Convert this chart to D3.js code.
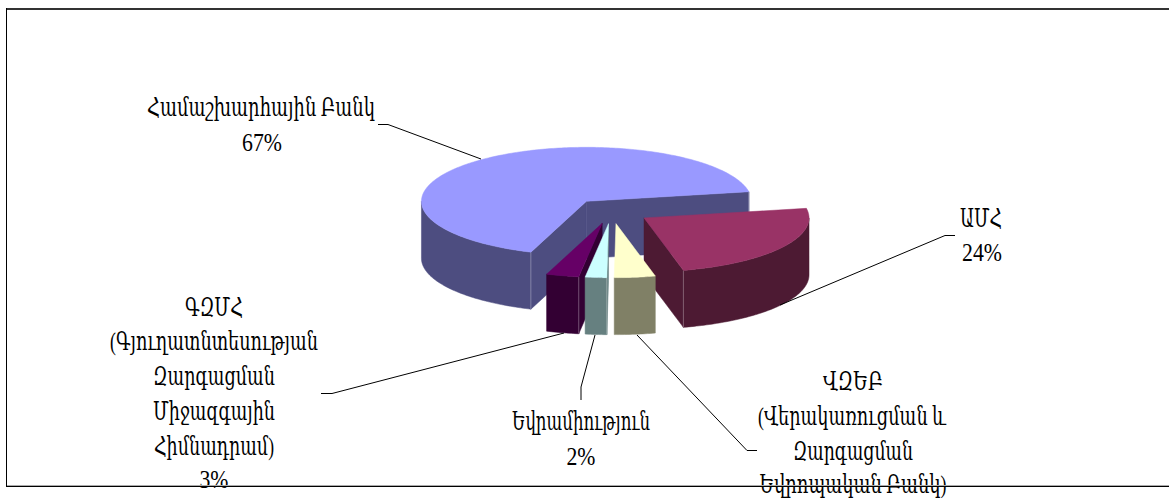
<!DOCTYPE html>
<html><head><meta charset="utf-8">
<style>html,body{margin:0;padding:0;background:#fff;overflow:hidden}svg{display:block}</style>
<script src="https://cdn.jsdelivr.net/npm/d3@7/dist/d3.min.js"></script>
</head><body><svg id="c" width="1169" height="498"></svg>
<script>
const categories = ["ԱՄՀ","ՎԶԵԲ","Եվրամիություն","ԳԶՄՀ","Համաշխարհային Բանկ"];
const shares = [24,4,2.1,3.2,66.7];
const topColors = ["#993366","#FFFFCC","#CCFFFF","#660066","#9999FF"];
const sideColors = ["#4D1A33","#808066","#668080","#330033","#4D4D80"];
const drawOrder = [4,0,3,2,1];

const W=1169,H=498;
const cx=611.5,cy=211,rx=165,ry=54,depth=57,explode=0.235,rotationDeg=-10.2;
const svg=d3.select("#c");
svg.append("rect").attr("width",W).attr("height",H).attr("fill","#fff");

// d3 pie angles: 0 = up, clockwise
const start=(rotationDeg+90)*Math.PI/180;
const arcs=d3.pie().sort(null).startAngle(start).endAngle(start+2*Math.PI)(shares);
const P=(o,a,z=0)=>[o[0]+rx*Math.sin(a),o[1]-ry*Math.cos(a)+z];
const line=d3.line();
const sample=(a,b)=>{const n=Math.max(2,Math.ceil((b-a)*60));return d3.range(n+1).map(i=>a+(b-a)*i/n);};
const gPie=svg.append("g");
drawOrder.forEach(i=>{
  const d=arcs[i],mid=(d.startAngle+d.endAngle)/2;
  const o=[cx+rx*explode*Math.sin(mid),cy-ry*explode*Math.cos(mid)];
  const g=gPie.append("g");
  const side=sideColors[i],top=topColors[i],edge=d3.interpolateRgb(side,"#fff")(0.3);
  const wall=(pts)=>g.append("path").attr("d",line(pts)+"Z").attr("fill",side).attr("stroke",side).attr("stroke-width",0.5);
  // radial walls that face the viewer
  const seen=[];
  if(Math.cos(d.startAngle-Math.PI/2)<0) seen.push(d.startAngle);
  if(Math.cos(d.endAngle-Math.PI/2)>0) seen.push(d.endAngle);
  seen.forEach(a=>{
    const q=P(o,a);
    wall([o,q,[q[0],q[1]+depth],[o[0],o[1]+depth]]);
  });
  // outer wall: front half of the rim
  const a0=Math.max(d.startAngle,Math.PI/2),a1=Math.min(d.endAngle,3*Math.PI/2);
  if(a1>a0){
    const s=sample(a0,a1);
    wall(s.map(a=>P(o,a)).concat(s.slice().reverse().map(a=>P(o,a,depth))));
  }
  // light vertical edges
  seen.forEach(a=>{const q=P(o,a);
    g.append("line").attr("x1",q[0]).attr("y1",q[1]).attr("x2",q[0]).attr("y2",q[1]+depth).attr("stroke",edge).attr("stroke-width",1);});
  // top face
  const s=sample(d.startAngle,d.endAngle);
  g.append("path").attr("d",line([o].concat(s.map(a=>P(o,a))))+"Z").attr("fill",top).attr("stroke",top).attr("stroke-width",0.5);
});

const leaders=[
 [[378,124.5],[388,124.5],[481,159]],
 [[955,235.5],[945,235.5],[780,305]],
 [[321,393.5],[332,393.5],[564,333]],
 [[581,400],[581,387],[595,335]],
 [[757,450.5],[747,450.5],[637,335]]
];
svg.append("g").selectAll("path").data(leaders).join("path").attr("d",d=>line(d)).attr("fill","none").attr("stroke","#000").attr("stroke-width",1);

const labelLines=[
 {t:categories[4],x:261,y:116,w:228},{t:"67%",x:262,y:151,w:40},
 {t:categories[0],x:981,y:227,w:42},{t:"24%",x:982,y:261,w:40},
 {t:categories[3],x:214,y:316,w:58},{t:"(Գյուղատնտեսության",x:214,y:350,w:208},{t:"Զարգացման",x:214,y:385,w:122},{t:"Միջազգային",x:214,y:420,w:122},{t:"Հիմնադրամ)",x:214,y:455,w:120},{t:"3%",x:214,y:488,w:29},
 {t:categories[2],x:581,y:430,w:138},{t:"2%",x:581,y:465,w:29},
 {t:categories[1],x:853,y:390,w:60},{t:"(Վերակառուցման և",x:852,y:425,w:188},{t:"Զարգացման",x:853,y:460,w:120},{t:"Եվրոպական Բանկ)",x:853,y:493,w:187}
];
svg.append("g").attr("font-family","'Liberation Serif','DejaVu Serif',serif").attr("font-size",26).attr("fill","#000").attr("text-anchor","middle")
 .selectAll("text").data(labelLines).join("text")
 .attr("x",d=>d.x).attr("y",d=>d.y).attr("textLength",d=>d.w).attr("lengthAdjust","spacingAndGlyphs").text(d=>d.t);

// chart frame: drawn last, it runs across the bottom labels
const frame=svg.append("g");
frame.append("rect").attr("x",6).attr("y",8).attr("width",W-6).attr("height",2).attr("fill","#333");
frame.append("rect").attr("x",6).attr("y",8).attr("width",1).attr("height",479).attr("fill","#000");
frame.append("rect").attr("x",7).attr("y",485).attr("width",W-7).attr("height",1).attr("fill","#aaa");
frame.append("rect").attr("x",6).attr("y",486).attr("width",W-6).attr("height",1).attr("fill","#000");
</script></body></html>
